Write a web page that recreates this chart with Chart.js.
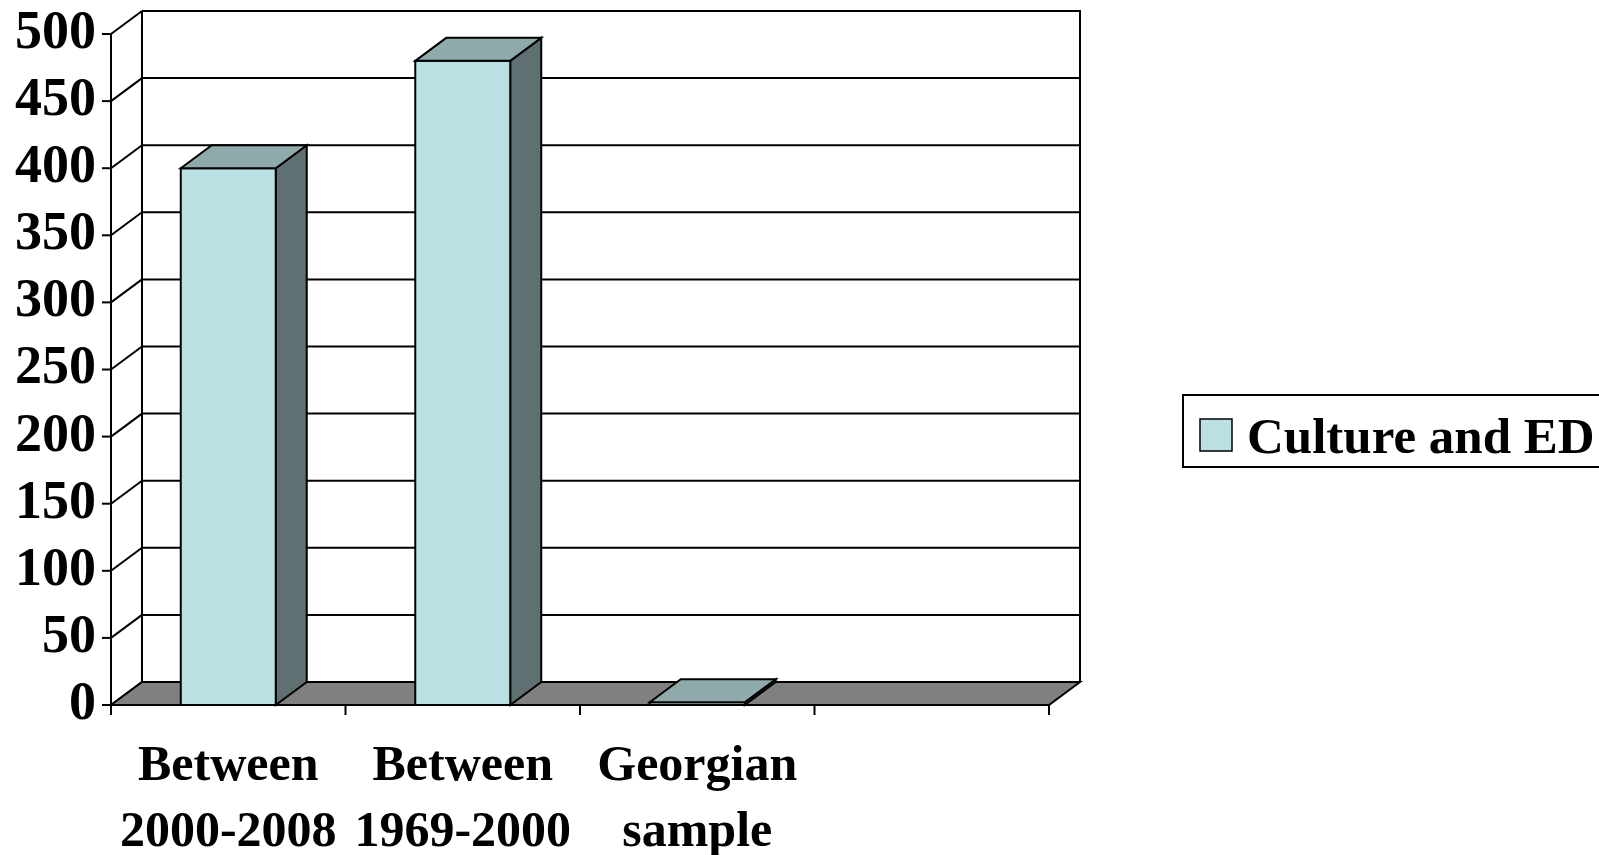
<!DOCTYPE html>
<html>
<head>
<meta charset="utf-8">
<script src="https://cdn.jsdelivr.net/npm/chart.js@4/dist/chart.umd.min.js"></script>
<style>
  html, body { margin: 0; padding: 0; background: #ffffff; }
  #wrap { width: 1599px; height: 855px; }
</style>
</head>
<body>
<div id="wrap"><canvas id="chart" width="1599" height="855"></canvas></div>
<script>
// Categories (multi-line labels) and the single series
const categories = [["Between", "2000-2008"], ["Between", "1969-2000"], ["Georgian", "sample"], ""];
const seriesName = "Culture and ED";
const cultureAndED = [400, 480, 2, null];
const yMin = 0;
const yMax = 500;
const yStep = 50;

// Face colours of the 3D columns and the floor
const FRONT = "#bae0e3";
const TOP = "#8faaab";
const SIDE = "#5e7072";
const FLOOR = "#808080";
const INK = "#000000";

// Depth of the 3D box (offset of the back wall from the front plane)
const DEPTH = { dx: 31, dy: -23 };

const FONT = "'Liberation Serif', 'Times New Roman', serif";

function poly(ctx, pts, fill) {
  ctx.beginPath();
  ctx.moveTo(pts[0][0], pts[0][1]);
  for (let i = 1; i < pts.length; i++) ctx.lineTo(pts[i][0], pts[i][1]);
  ctx.closePath();
  if (fill) { ctx.fillStyle = fill; ctx.fill(); }
  ctx.stroke();
}
function seg(ctx, ax, ay, bx, by) {
  ctx.beginPath(); ctx.moveTo(ax, ay); ctx.lineTo(bx, by); ctx.stroke();
}

// Draws the walls, floor and 3D columns from the chart's own scales
const box3d = {
  id: "box3d",
  beforeDatasetsDraw(chart) {
    const { ctx, chartArea: a, scales: { x, y } } = chart;
    const { dx, dy } = DEPTH;
    const y0 = y.getPixelForValue(yMin);
    const yT = y.getPixelForValue(yMax);
    const xl = a.left, xr = a.right;
    ctx.save();
    ctx.strokeStyle = INK;
    ctx.lineWidth = 2;
    ctx.lineJoin = "miter";
    ctx.lineCap = "butt";

    // back wall gridlines, side wall diagonals and y tick marks
    y.ticks.forEach(t => {
      const py = y.getPixelForValue(t.value);
      seg(ctx, xl + dx, py + dy, xr + dx, py + dy);
      seg(ctx, xl, py, xl + dx, py + dy);
      seg(ctx, xl - 9, py, xl, py);
    });
    // back wall edges
    seg(ctx, xl + dx, yT + dy, xl + dx, y0 + dy);
    seg(ctx, xr + dx, yT + dy - 1, xr + dx, y0 + dy);
    // floor
    poly(ctx, [[xl, y0], [xr, y0], [xr + dx, y0 + dy], [xl + dx, y0 + dy]], FLOOR);
    // front value axis
    seg(ctx, xl, yT, xl, y0);
    // category boundary ticks
    const n = categories.length;
    const step = x.getPixelForValue(1) - x.getPixelForValue(0);
    for (let i = 0; i <= n; i++) {
      const px = x.getPixelForValue(0) - step / 2 + i * step;
      seg(ctx, px, y0, px, y0 + 10);
    }

    // columns
    const meta = chart.getDatasetMeta(0);
    meta.data.forEach((bar, i) => {
      if (cultureAndED[i] == null) return;
      const p = bar.getProps(["x", "y", "base", "width"], true);
      const L = p.x - p.width / 2, R = p.x + p.width / 2;
      const top = p.y, base = p.base;
      // side
      poly(ctx, [[R, top], [R + dx, top + dy], [R + dx, base + dy], [R, base]], SIDE);
      // front
      if (base - top > 0.5) poly(ctx, [[L, top], [R, top], [R, base], [L, base]], FRONT);
      // top
      poly(ctx, [[L, top], [L + dx, top + dy], [R + dx, top + dy], [R, top]], TOP);
    });
    ctx.restore();
    return false;
  },
  afterDraw(chart) {
    // legend box
    const { ctx } = chart;
    const ds = chart.data.datasets[0];
    ctx.save();
    ctx.strokeStyle = INK;
    ctx.lineWidth = 2;
    ctx.fillStyle = "#ffffff";
    ctx.beginPath();
    ctx.rect(1183, 395, 440, 72);
    ctx.fill();
    ctx.stroke();
    ctx.lineWidth = 1.5;
    ctx.fillStyle = ds.backgroundColor;
    ctx.fillRect(1200, 419, 32, 32);
    ctx.strokeRect(1200, 419, 32, 32);
    ctx.fillStyle = INK;
    ctx.font = "bold 51px " + FONT;
    ctx.textBaseline = "middle";
    ctx.textAlign = "left";
    ctx.fillText(ds.label, 1247, 440);
    ctx.restore();
  }
};

new Chart(document.getElementById("chart"), {
  type: "bar",
  data: {
    labels: categories,
    datasets: [{
      label: seriesName,
      data: cultureAndED,
      backgroundColor: FRONT,
      borderColor: INK,
      borderWidth: 2,
      categoryPercentage: 1,
      barPercentage: 0.405
    }]
  },
  options: {
    responsive: false,
    animation: false,
    devicePixelRatio: 1,
    layout: { padding: { top: 34, right: 550, bottom: 0, left: 0 } },
    plugins: { legend: { display: false }, tooltip: { enabled: false } },
    scales: {
      x: {
        grid: { display: false },
        border: { display: false },
        ticks: {
          color: INK,
          maxRotation: 0,
          autoSkip: false,
          padding: 21,
          font: { family: FONT, size: 50, weight: "bold", lineHeight: 1.32 }
        },
        afterFit(s) { s.height = 150; s.paddingLeft = 0; s.paddingRight = 0; }
      },
      y: {
        min: yMin,
        max: yMax,
        grid: { display: false },
        border: { display: false },
        ticks: {
          stepSize: yStep,
          autoSkip: false,
          color: INK,
          padding: 7,
          font: { family: FONT, size: 54, weight: "bold", lineHeight: 1 }
        },
        afterFit(s) { s.width = 111; s.paddingTop = 0; s.paddingBottom = 0; }
      }
    }
  },
  plugins: [box3d]
});
</script>
</body>
</html>
